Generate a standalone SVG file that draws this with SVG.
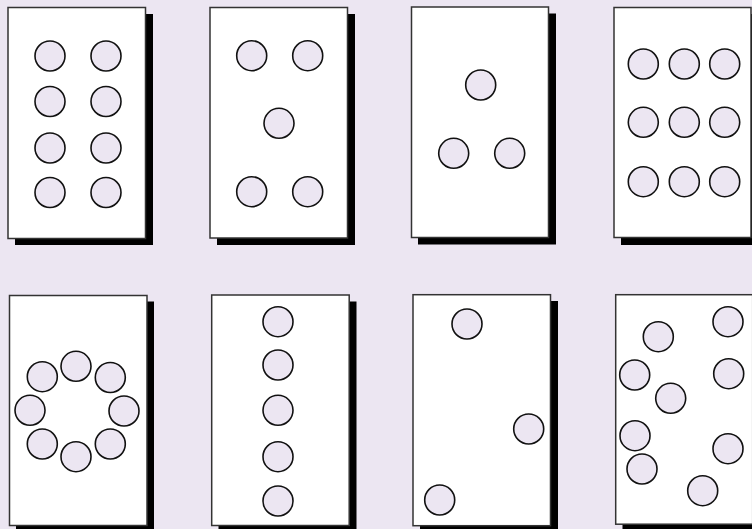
<svg xmlns="http://www.w3.org/2000/svg" width="752" height="529" viewBox="0 0 752 529">
<style>
.bg{fill:#ECE6F2}
.shadow{fill:#000}
.card{fill:#fff;stroke:#333;stroke-width:1.5}
.dot{fill:#ECE6F2;stroke:#111;stroke-width:1.6}
</style>
<rect class="bg" x="0" y="0" width="752" height="529"/>
<g id="card1">
<rect class="shadow" x="15" y="14" width="138" height="231"/>
<rect class="card" x="8" y="7.5" width="137.5" height="231"/>
<circle class="dot" cx="50" cy="56" r="15"/><circle class="dot" cx="106" cy="56" r="15"/>
<circle class="dot" cx="50" cy="101.5" r="15"/><circle class="dot" cx="106" cy="101.5" r="15"/>
<circle class="dot" cx="50" cy="148" r="15"/><circle class="dot" cx="106" cy="148" r="15"/>
<circle class="dot" cx="50" cy="192.5" r="15"/><circle class="dot" cx="106" cy="192.5" r="15"/>
</g>
<g id="card2">
<rect class="shadow" x="217" y="14" width="138" height="231"/>
<rect class="card" x="210" y="7.5" width="137.5" height="230.5"/>
<circle class="dot" cx="251.7" cy="55.7" r="15"/><circle class="dot" cx="307.7" cy="55.7" r="15"/>
<circle class="dot" cx="279" cy="123.3" r="15"/>
<circle class="dot" cx="251.7" cy="191.7" r="15"/><circle class="dot" cx="307.7" cy="191.7" r="15"/>
</g>
<g id="card3">
<rect class="shadow" x="418" y="13.5" width="138" height="231"/>
<rect class="card" x="411.5" y="7" width="137" height="230.5"/>
<circle class="dot" cx="480.7" cy="85" r="15"/>
<circle class="dot" cx="453.7" cy="153.3" r="15"/><circle class="dot" cx="509.7" cy="153.3" r="15"/>
</g>
<g id="card4">
<rect class="shadow" x="621" y="14" width="138" height="231"/>
<rect class="card" x="614" y="7.5" width="137" height="230"/>
<circle class="dot" cx="643.3" cy="64" r="15"/><circle class="dot" cx="684.3" cy="64" r="15"/><circle class="dot" cx="724.7" cy="64" r="15"/>
<circle class="dot" cx="643.3" cy="122.3" r="15"/><circle class="dot" cx="684.3" cy="122.3" r="15"/><circle class="dot" cx="724.7" cy="122.3" r="15"/>
<circle class="dot" cx="643.3" cy="181.7" r="15"/><circle class="dot" cx="684.3" cy="181.7" r="15"/><circle class="dot" cx="724.7" cy="181.7" r="15"/>
</g>
<g id="card5">
<rect class="shadow" x="16" y="301.5" width="138" height="231"/>
<rect class="card" x="9.5" y="295.5" width="137.5" height="230"/>
<circle class="dot" cx="76" cy="366.3" r="15"/>
<circle class="dot" cx="110.3" cy="377.5" r="15"/>
<circle class="dot" cx="124" cy="411" r="15"/>
<circle class="dot" cx="110.3" cy="444" r="15"/>
<circle class="dot" cx="76" cy="456.7" r="15"/>
<circle class="dot" cx="42.3" cy="444" r="15"/>
<circle class="dot" cx="30" cy="410.3" r="15"/>
<circle class="dot" cx="42.3" cy="376.7" r="15"/>
</g>
<g id="card6">
<rect class="shadow" x="218.5" y="301.5" width="138" height="231"/>
<rect class="card" x="211.7" y="295" width="137.5" height="230.5"/>
<circle class="dot" cx="278" cy="321.7" r="15"/>
<circle class="dot" cx="278" cy="365" r="15"/>
<circle class="dot" cx="278" cy="410.3" r="15"/>
<circle class="dot" cx="278" cy="456.7" r="15"/>
<circle class="dot" cx="278" cy="501" r="15"/>
</g>
<g id="card7">
<rect class="shadow" x="420" y="301" width="138" height="231"/>
<rect class="card" x="413" y="294.7" width="137.5" height="231"/>
<circle class="dot" cx="467" cy="324" r="15"/>
<circle class="dot" cx="528.7" cy="429" r="15"/>
<circle class="dot" cx="439.7" cy="500" r="15"/>
</g>
<g id="card8">
<rect class="shadow" x="622.5" y="301" width="138" height="231"/>
<rect class="card" x="615.7" y="294.7" width="137" height="229.5"/>
<circle class="dot" cx="658.3" cy="336.7" r="15"/>
<circle class="dot" cx="728" cy="321.7" r="15"/>
<circle class="dot" cx="634.7" cy="375" r="15"/>
<circle class="dot" cx="728.7" cy="373.7" r="15"/>
<circle class="dot" cx="670.7" cy="398.3" r="15"/>
<circle class="dot" cx="635" cy="435.7" r="15"/>
<circle class="dot" cx="642" cy="469" r="15"/>
<circle class="dot" cx="728" cy="448.7" r="15"/>
<circle class="dot" cx="702.7" cy="490.7" r="15"/>
</g>
<g id="connectors"/>
</svg>
